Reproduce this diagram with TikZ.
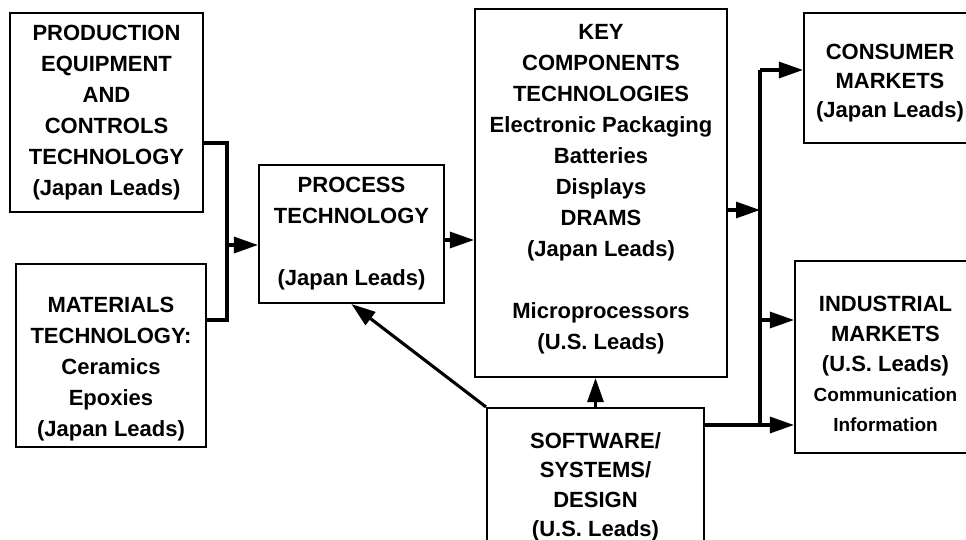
\documentclass[tikz,border=0pt]{standalone}
\usepackage{fontspec}
\setmainfont{Liberation Sans}
\usetikzlibrary{arrows.meta,positioning}

\tikzset{
  box/.style={draw, line width=2.1pt, align=center, inner sep=0pt,
    font=\fontsize{22}{31}\selectfont\bfseries},
  link/.style={line width=3.1pt},
  arr/.style={link, -{Triangle[length=24pt,width=16pt]}}
}

\begin{document}
\begin{tikzpicture}[x=1pt,y=-1pt]
      \useasboundingbox (0,0) rectangle (966,540);
      \clip (0,0) rectangle (966,540);

      \node (prod) [box, minimum width=193pt, minimum height=199pt] at (106.5,112.5)
        {PRODUCTION\\EQUIPMENT\\AND\\CONTROLS\\TECHNOLOGY\\(Japan Leads)};
      \node (mat)  [box, minimum width=190pt, minimum height=183pt] at (111,355.5)
        {\rule{0pt}{42pt}MATERIALS\\TECHNOLOGY:\\Ceramics\\Epoxies\\(Japan Leads)};
      \node (proc) [box, minimum width=185pt, minimum height=138pt] at (351.5,234)
        {PROCESS\\TECHNOLOGY\\ \\(Japan Leads)};
      \node (key)  [box, minimum width=252pt, minimum height=368pt] at (601,193)
        {\rule{0pt}{22pt}KEY\\COMPONENTS\\TECHNOLOGIES\\Electronic Packaging\\Batteries\\Displays\\DRAMS\\(Japan Leads)\\ \\Microprocessors\\(U.S. Leads)\rule[-20pt]{0pt}{20pt}};
      \node (cons) [box, minimum width=172pt, minimum height=130pt,
        font=\fontsize{22}{29}\selectfont\bfseries] at (890,78)
        {\rule{0pt}{26pt}CONSUMER\\MARKETS\\(Japan Leads)};
      \node (ind)  [box, minimum width=181pt, minimum height=192pt,
        font=\fontsize{22}{30}\selectfont\bfseries] at (885.5,357)
        {\rule{0pt}{30pt}INDUSTRIAL\\MARKETS\\(U.S. Leads)\\{\fontsize{19}{30}\selectfont Communication}\\{\fontsize{19}{32}\selectfont Information}};
      \node (soft) [box, minimum width=217pt, minimum height=152pt,
        font=\fontsize{22}{29.5}\selectfont\bfseries] at (595.5,484)
        {\rule{0pt}{22pt}SOFTWARE/\\SYSTEMS/\\DESIGN\\(U.S. Leads)};

      \coordinate (join) at (227,245);
      \coordinate (bustop) at (760,70);
      \coordinate (busmid) at (760,210);
      \coordinate (busind) at (760,320);
      \coordinate (busbot) at (760,425);

      \draw [link] (prod.east |- 0,143) -| (join) |- (mat.east |- 0,320);
      \draw [arr] (join) to (proc.west |- join);
      \draw [arr] (proc.east |- 0,240) to (key.west |- 0,240);
      \draw [arr] (key.east |- busmid) to (busmid);
      \draw [link] (bustop) to (busbot);
      \draw [arr] (bustop) to (cons.west |- bustop);
      \draw [arr] (busind) to (ind.west |- busind);
      \draw [arr] (soft.east |- busbot) to (ind.west |- busbot);
      \draw [arr] (soft.north) to (soft.north |- key.south);
      \draw [arr] (soft.north west) to (proc.south);
    \end{tikzpicture}
\end{document}
